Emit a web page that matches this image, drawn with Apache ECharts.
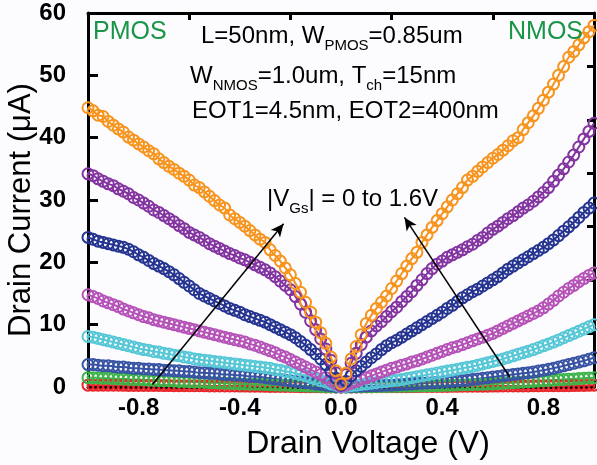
<!DOCTYPE html>
<html><head><meta charset="utf-8">
<script src="https://cdn.jsdelivr.net/npm/echarts@6/dist/echarts.min.js"></script>
<style>html,body{margin:0;padding:0;background:#fcfcfe;}#c{width:597px;height:465px;}</style>
</head><body><div id="c"></div>
<script>
// Drain voltage (V), -1.00 .. 1.00
var vd = [
  -1.00,-0.98,-0.96,-0.94,-0.92,-0.90,-0.88,-0.86,-0.84,-0.82,
  -0.80,-0.78,-0.76,-0.74,-0.72,-0.70,-0.68,-0.66,-0.64,-0.62,
  -0.60,-0.58,-0.56,-0.54,-0.52,-0.50,-0.48,-0.46,-0.44,-0.42,
  -0.40,-0.38,-0.36,-0.34,-0.32,-0.30,-0.28,-0.26,-0.24,-0.22,
  -0.20,-0.18,-0.16,-0.14,-0.12,-0.10,-0.08,-0.06,-0.04,-0.02,
  0,
  0.02,0.04,0.06,0.08,0.10,0.12,0.14,0.16,0.18,0.20,
  0.22,0.24,0.26,0.28,0.30,0.32,0.34,0.36,0.38,0.40,
  0.42,0.44,0.46,0.48,0.50,0.52,0.54,0.56,0.58,0.60,
  0.62,0.64,0.66,0.68,0.70,0.72,0.74,0.76,0.78,0.80,
  0.82,0.84,0.86,0.88,0.90,0.92,0.94,0.96,0.98,1.00];
// Drain current (uA): |VGS| = 1.6 V (orange) ... 0 V (red); PMOS left, NMOS right
var idOrange = [
  44.8,44.3,43.6,43.4,42.6,42.0,41.4,40.9,40.1,39.6,
  39.0,38.5,37.9,37.4,36.6,36.0,35.4,34.9,34.3,33.8,
  33.2,32.4,32.0,31.3,30.6,29.9,29.2,28.7,27.6,27.0,
  26.4,25.8,25.1,24.4,23.7,23.2,22.0,21.1,20.2,19.1,
  18.0,16.6,15.2,13.6,12.0,10.4,8.7,7.0,4.8,2.6,
  0.5,
  2.2,4.5,6.5,8.4,10.2,11.5,12.6,13.6,14.6,15.8,
  17.0,18.2,19.4,20.6,21.6,23.2,24.4,25.6,26.7,27.8,
  28.9,30.0,31.0,32.0,33.2,33.8,34.6,35.3,36.0,36.7,
  37.3,38.0,38.7,39.5,40.0,41.3,42.4,43.5,44.7,46.0,
  47.3,48.6,50.0,51.4,52.9,53.8,54.9,56.0,57.0,58.0];
var idPurple = [
  34.2,33.9,33.4,33.0,32.6,32.3,31.8,31.4,31.0,30.4,
  30.0,29.5,29.0,28.4,28.0,27.5,27.0,26.5,25.9,25.4,
  24.8,24.4,24.0,23.5,23.0,22.6,22.2,21.8,21.4,21.1,
  20.7,20.4,20.0,19.6,19.2,18.8,18.3,17.7,17.0,16.3,
  15.6,14.5,13.3,12.0,10.6,9.2,7.7,6.1,4.3,2.3,
  0.4,
  2.0,3.8,5.4,6.8,8.0,9.0,9.8,10.5,11.3,12.1,
  12.8,13.7,14.5,15.3,16.3,17.2,18.2,19.0,19.7,20.2,
  20.8,21.2,21.6,22.0,22.5,22.9,23.5,24.0,24.7,25.3,
  25.8,26.4,27.0,27.5,28.1,28.7,29.2,29.8,30.5,31.2,
  32.0,33.0,34.0,35.0,36.1,37.2,38.5,39.8,41.0,42.3];
var idNavy = [
  24.0,23.7,23.4,23.2,23.0,22.8,22.6,22.4,22.1,21.7,
  21.2,20.8,20.3,19.8,19.4,19.0,18.5,18.0,17.4,16.8,
  16.2,15.6,15.0,14.6,14.2,13.8,13.4,13.0,12.6,12.3,
  12.0,11.6,11.3,11.0,10.7,10.4,10.0,9.6,9.2,8.8,
  8.4,7.9,7.3,6.7,6.0,5.3,4.5,3.6,2.5,1.4,
  0.3,
  0.9,1.8,2.6,3.3,4.0,4.7,5.3,6.0,6.6,7.1,
  7.5,8.0,8.5,9.0,9.5,10.0,10.5,11.0,11.5,12.0,
  12.6,13.1,13.7,14.3,14.8,15.3,15.7,16.2,16.7,17.2,
  17.7,18.3,18.9,19.4,19.9,20.4,20.9,21.4,21.9,22.4,
  23.0,23.6,24.3,25.0,25.7,26.4,27.2,28.0,28.7,29.5];
var idMagenta = [
  14.8,14.5,14.2,13.8,13.5,13.2,12.9,12.5,12.2,11.9,
  11.6,11.3,11.1,10.8,10.6,10.4,10.2,10.0,9.8,9.6,
  9.4,9.2,9.0,8.8,8.6,8.4,8.2,8.0,7.8,7.6,
  7.4,7.2,6.9,6.7,6.4,6.1,5.8,5.5,5.1,4.8,
  4.4,4.0,3.6,3.2,2.8,2.4,2.0,1.5,1.0,0.5,
  0.1,
  0.3,0.6,0.9,1.2,1.5,1.8,2.1,2.4,2.7,3.0,
  3.2,3.5,3.7,4.0,4.2,4.5,4.8,5.1,5.4,5.7,
  6.0,6.3,6.5,6.8,7.1,7.4,7.7,8.0,8.3,8.6,
  9.0,9.4,9.8,10.2,10.6,11.0,11.4,11.8,12.2,12.7,
  13.3,13.9,14.6,15.2,15.8,16.3,16.9,17.4,17.9,18.3];
var idCyan = [
  8.1,8.0,7.8,7.6,7.4,7.2,7.0,6.8,6.6,6.4,
  6.2,6.0,5.9,5.7,5.6,5.4,5.3,5.1,5.0,4.8,
  4.7,4.5,4.4,4.3,4.2,4.1,4.0,3.9,3.8,3.7,
  3.6,3.5,3.4,3.3,3.2,3.1,3.0,2.8,2.7,2.5,
  2.4,2.2,2.0,1.8,1.5,1.3,1.0,0.8,0.5,0.3,
  0,
  0.1,0.2,0.3,0.4,0.5,0.6,0.7,0.8,0.9,1.0,
  1.1,1.2,1.35,1.5,1.65,1.8,1.95,2.1,2.25,2.4,
  2.55,2.7,2.85,3.0,3.15,3.3,3.5,3.7,3.9,4.1,
  4.3,4.5,4.75,5.0,5.25,5.5,5.75,6.0,6.3,6.6,
  6.9,7.2,7.55,7.9,8.25,8.6,8.95,9.3,9.65,10.0];
var idBlue = [
  3.6,3.6,3.5,3.4,3.4,3.3,3.2,3.2,3.1,3.0,
  3.0,2.9,2.9,2.8,2.8,2.7,2.7,2.6,2.6,2.5,
  2.5,2.4,2.3,2.3,2.2,2.2,2.1,2.0,2.0,1.9,
  1.9,1.8,1.7,1.7,1.6,1.5,1.4,1.3,1.2,1.1,
  1.0,0.9,0.8,0.7,0.6,0.5,0.4,0.3,0.2,0.1,
  0,
  0.05,0.1,0.12,0.15,0.18,0.2,0.22,0.25,0.28,0.3,
  0.35,0.4,0.45,0.5,0.55,0.6,0.65,0.7,0.75,0.8,
  0.85,0.9,0.95,1.0,1.1,1.2,1.3,1.4,1.5,1.6,
  1.7,1.8,1.9,2.0,2.1,2.2,2.3,2.4,2.55,2.7,
  2.85,3.0,3.2,3.4,3.6,3.8,4.0,4.2,4.45,4.7];
var idGreen = [
  1.5,1.5,1.45,1.4,1.4,1.35,1.3,1.3,1.25,1.2,
  1.2,1.15,1.1,1.1,1.05,1.0,1.0,0.95,0.9,0.9,
  0.85,0.8,0.8,0.75,0.7,0.7,0.65,0.6,0.6,0.55,
  0.5,0.5,0.45,0.45,0.4,0.4,0.35,0.33,0.3,0.28,
  0.25,0.22,0.2,0.17,0.15,0.12,0.1,0.07,0.05,0.02,
  0,
  0.01,0.02,0.03,0.04,0.05,0.06,0.07,0.08,0.09,0.1,
  0.11,0.12,0.13,0.15,0.16,0.18,0.19,0.2,0.22,0.25,
  0.27,0.3,0.32,0.35,0.37,0.4,0.42,0.45,0.47,0.5,
  0.55,0.6,0.65,0.7,0.75,0.8,0.85,0.9,0.95,1.0,
  1.05,1.1,1.15,1.2,1.25,1.3,1.35,1.4,1.45,1.5];
var idRed = [
  0.3,0.3,0.3,0.29,0.28,0.28,0.28,0.27,0.26,0.26,
  0.26,0.25,0.25,0.24,0.24,0.23,0.23,0.22,0.22,0.21,
  0.2,0.2,0.2,0.19,0.18,0.18,0.17,0.17,0.16,0.16,
  0.15,0.15,0.14,0.13,0.12,0.11,0.1,0.1,0.09,0.09,
  0.08,0.07,0.06,0.05,0.05,0.04,0.03,0.02,0.02,0.01,
  0,
  0.01,0.01,0.02,0.02,0.03,0.03,0.04,0.04,0.05,0.05,
  0.05,0.06,0.06,0.07,0.07,0.08,0.08,0.09,0.09,0.1,
  0.1,0.11,0.11,0.12,0.12,0.13,0.13,0.14,0.14,0.15,
  0.15,0.16,0.16,0.17,0.17,0.18,0.18,0.19,0.19,0.2,
  0.2,0.21,0.21,0.22,0.22,0.23,0.24,0.25,0.27,0.3];
var xTickLabels = ['-0.8','-0.4','0.0','0.4','0.8'];
var topTicks = [-0.6,-0.2,0.2,0.6];

var curves = [
  {y: idRed, c: '#e8262a'},
  {y: idGreen, c: '#3cb44a'},
  {y: idBlue, c: '#3853a4'},
  {y: idCyan, c: '#55c7d6'},
  {y: idMagenta, c: '#b552b8'},
  {y: idNavy, c: '#253490'},
  {y: idPurple, c: '#8334a0'},
  {y: idOrange, c: '#f7941d'}
];
var FONT = '"Liberation Sans", Arial, sans-serif';
var series = curves.map(function (cv) {
  return {
    type: 'line', xAxisIndex: 0, yAxisIndex: 0,
    data: vd.map(function (x, i) { return [x, cv.y[i]]; }),
    smooth: true, symbol: 'circle', symbolSize: 11, showSymbol: true, showAllSymbol: true,
    lineStyle: {color: cv.c, width: 2},
    itemStyle: {color: 'rgba(0,0,0,0)', borderColor: cv.c, borderWidth: 2},
    emphasis: {disabled: true}, silent: true
  };
});
series.push({
  type: 'line', xAxisIndex: 0, yAxisIndex: 0, data: [], z: 20, silent: true,
  markLine: {
    silent: true, animation: false,
    symbol: ['none', 'arrow'], symbolSize: [9, 13],
    lineStyle: {color: '#000', width: 1.5, type: 'solid'},
    label: {show: false},
    data: [
      [{coord: [-0.745, 0.4]}, {coord: [-0.227, 26.2]}],
      [{coord: [0.667, 1.6]}, {coord: [0.251, 27.2]}]
    ]
  }
});

var chart = echarts.init(document.getElementById('c'), null, {renderer: 'canvas'});
var subStyle = {fontSize: 15, fontFamily: FONT, color: '#000', padding: [20, 0, 0, 0]};
var mainStyle = {fontSize: 24, fontFamily: FONT, color: '#000', lineHeight: 30};
function ann(x, y, txt) {
  return {type: 'text', left: x, top: y, z: 30, silent: true,
    style: {text: txt, rich: {m: mainStyle, sub: subStyle}, fill: '#000', font: '24px ' + FONT}};
}
chart.setOption({
  animation: false,
  backgroundColor: '#fcfcfe',
  grid: {left: 88, top: 13, width: 510, height: 374},
  xAxis: [
    {type: 'value', position: 'bottom', min: -1, max: 1, interval: 0.2,
     axisLine: {show: true, onZero: false, lineStyle: {color: '#000', width: 3}},
     axisTick: {show: false}, splitLine: {show: false},
     axisLabel: {color: '#000', fontSize: 24, fontWeight: 'bold', fontFamily: FONT, margin: 9,
       formatter: function (v) { var s = (Math.abs(v) < 1e-9 ? 0 : v).toFixed(1); return xTickLabels.indexOf(s) >= 0 ? s : ''; }}},
    {type: 'value', position: 'top', min: -1, max: 1, interval: 0.2,
     axisLine: {show: true, onZero: false, lineStyle: {color: '#000', width: 3}},
     axisTick: {show: true, inside: true, length: 7, lineStyle: {color: '#000', width: 3}, customValues: topTicks},
     axisLabel: {show: false}, splitLine: {show: false}}
  ],
  yAxis: [
    {type: 'value', position: 'left', min: 0, max: 60, interval: 10,
     axisLine: {show: true, onZero: false, lineStyle: {color: '#000', width: 3}},
     axisTick: {show: true, inside: true, length: 10, lineStyle: {color: '#000', width: 3}},
     axisLabel: {color: '#000', fontSize: 24, fontWeight: 'bold', fontFamily: FONT, margin: 22},
     splitLine: {show: false}},
    {type: 'value', position: 'right', min: 0, max: 70, interval: 10,
     axisLine: {show: true, onZero: false, lineStyle: {color: '#000', width: 3}},
     axisTick: {show: true, inside: true, length: 7, lineStyle: {color: '#000', width: 3}},
     axisLabel: {show: false}, splitLine: {show: false}}
  ],
  series: series,
  graphic: [
    {type: 'text', left: 93, top: 20, silent: true, z: 30,
     style: {text: 'PMOS', fill: '#1a9447', font: '25px ' + FONT}},
    {type: 'text', left: 508, top: 20, silent: true, z: 30,
     style: {text: 'NMOS', fill: '#1a9447', font: '25px ' + FONT}},
    ann(201, 24, '{m|L=50nm, W}{sub|PMOS}{m|=0.85um}'),
    ann(190, 64, '{m|W}{sub|NMOS}{m|=1.0um, T}{sub|ch}{m|=15nm}'),
    ann(192, 99, '{m|EOT1=4.5nm, EOT2=400nm}'),
    ann(267, 187, '{m||V}{sub|Gs}{m|| = 0 to 1.6V}'),
    {type: 'text', x: 368, y: 444, silent: true, z: 30,
     style: {text: 'Drain Voltage (V)', fill: '#000', font: '32px ' + FONT, textAlign: 'center', textVerticalAlign: 'middle'}},
    {type: 'text', x: 21, y: 210, rotation: Math.PI / 2, silent: true, z: 30,
     style: {text: 'Drain Current (\u03bcA)', fill: '#000', font: '31px ' + FONT, textAlign: 'center', textVerticalAlign: 'middle'}}
  ]
});
</script></body></html>
